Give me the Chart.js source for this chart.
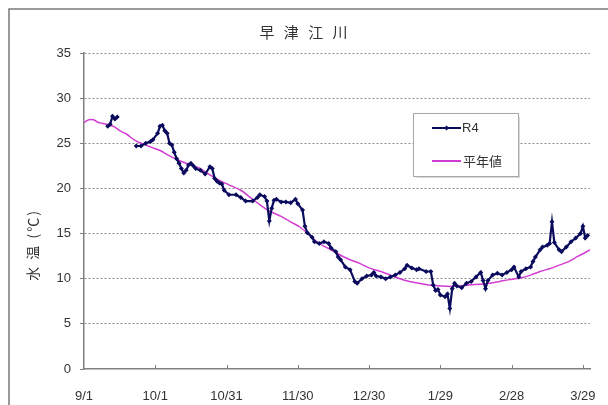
<!DOCTYPE html>
<html lang="ja">
<head>
<meta charset="utf-8">
<title>早津江川 水温</title>
<script src="https://cdn.jsdelivr.net/npm/chart.js@4"></script>
<style>
  html, body { margin: 0; padding: 0; background: #fff; }
  #wrap { width: 608px; height: 405px; }
</style>
</head>
<body>
<div id="wrap"><canvas id="tempChart" width="608" height="405"></canvas></div>
<script>
// days counted from 9/1
const tickDays = [0, 30, 60, 90, 120, 150, 180, 210];
const tickLabels = ['9/1', '10/1', '10/31', '11/30', '12/30', '1/29', '2/28', '3/29'];

// R4 daily water temperature (null = missing)
const r4Days = [
  10, 11, 12, 13, 14, 18, 22, 24, 26, 28, 29, 31,
  32, 33, 34, 35, 36, 37, 38, 39, 40, 41, 42, 43,
  44, 45, 46, 47, 49, 51, 53, 54, 55, 56, 57, 58,
  59, 61, 64, 66, 68, 71, 73, 74, 76, 77, 78, 79,
  80, 81, 83, 85, 87, 89, 90, 92, 93, 94, 96, 97,
  99, 101, 103, 104, 106, 107, 108, 110, 112, 114, 115, 117,
  119, 121, 122, 123, 125, 127, 129, 131, 133, 135, 136, 138,
  140, 141, 144, 146, 147, 148, 149, 150, 152, 153, 154, 155,
  156, 157, 159, 161, 163, 165, 167, 168, 169, 170, 172, 174,
  176, 178, 180, 181, 183, 184, 186, 188, 189, 190, 192, 193,
  195, 196, 197, 198, 200, 201, 203, 205, 207, 209, 210, 211,
  212
];
const r4Temps = [
  26.9, 27.1, 28.0, 27.7, 27.9, null, 24.7, 24.7, 25.0, 25.2, 25.4, 26.1,
  26.9, 27.0, 26.4, 26.1, 25.0, 24.8, 24.0, 23.3, 22.8, 22.2, 21.7, 22.0,
  22.6, 22.8, 22.5, 22.2, 22.0, 21.6, 22.4, 22.2, 21.1, 20.8, 20.6, 20.5,
  19.8, 19.3, 19.3, 19.0, 18.6, 18.6, 19.0, 19.3, 19.1, 18.6, 16.4, 17.8,
  18.7, 18.8, 18.5, 18.5, 18.4, 18.8, 18.3, 17.6, 15.8, 15.1, 14.6, 14.1,
  13.9, 14.1, 13.9, 13.4, 13.0, 12.4, 12.1, 11.3, 11.0, 9.7, 9.5, 10.0,
  10.3, 10.4, 10.7, 10.3, 10.2, 10.0, 10.2, 10.4, 10.7, 11.1, 11.5, 11.2,
  11.0, 11.1, 10.8, 10.8, 9.3, 8.7, 8.8, 8.2, 8.0, 8.3, 6.7, 8.9,
  9.5, 9.2, 9.0, 9.5, 9.7, 10.2, 10.7, 9.8, 8.9, 9.8, 10.4, 10.6,
  10.4, 10.7, 11.0, 11.3, 10.2, 10.8, 11.1, 11.3, 11.9, 12.4, 13.2, 13.5,
  13.7, 13.9, 16.3, 14.0, 13.2, 13.0, 13.5, 14.1, 14.5, 15.0, 15.8, 14.5,
  14.8
];

// normal-year curve
const normalDays = [
  0, 2, 4, 6, 8, 11, 13, 15, 18, 21, 24, 27, 30, 32, 36, 40, 44, 49, 53, 57,
  61, 66, 70, 74, 78, 83, 87, 91, 95, 99, 104, 108, 112, 116, 120, 125, 129, 133, 137, 141,
  145, 150, 154, 158, 162, 167, 171, 175, 179, 184, 188, 192, 196, 200, 204, 208, 211, 213
];
const normalTemps = [
  27.3, 27.6, 27.6, 27.3, 27.2, 27.0, 26.8, 26.4, 26.0, 25.4, 25.0, 24.7, 24.4, 24.2, 23.6, 23.1, 22.7, 22.2, 21.5, 20.9,
  20.4, 19.8, 19.0, 18.2, 17.5, 16.9, 16.3, 15.7, 14.8, 13.9, 13.2, 12.6, 12.1, 11.7, 11.2, 10.8, 10.4, 10.0, 9.7, 9.5,
  9.3, 9.2, 9.15, 9.2, 9.3, 9.4, 9.5, 9.7, 9.9, 10.1, 10.4, 10.8, 11.1, 11.5, 11.9, 12.5, 12.9, 13.2
];

const NAVY = '#0b0b5e';
const PINK = '#d23cd2';
const AXIS_GREY = '#808080';
const TEXT = '#333333';
const NUM_FONT = 'Liberation Sans, Arial, sans-serif';
const JP_FONT = '"Noto Sans CJK JP", sans-serif';

const toPoints = (xs, ys) => xs.map((x, i) => ({ x: x, y: ys[i] }));

// frame, title, axis caption, inner x ticks and the legend box
const decorations = {
  id: 'decorations',
  beforeDraw(chart) {
    const ctx = chart.ctx;
    ctx.save();
    ctx.fillStyle = '#fff';
    ctx.fillRect(0, 0, chart.width, chart.height);
    ctx.strokeStyle = '#7a7a7a';
    ctx.lineWidth = 1.5;
    ctx.beginPath();
    ctx.moveTo(9, chart.height);
    ctx.lineTo(9, 9);
    ctx.lineTo(chart.width, 9);
    ctx.stroke();
    ctx.restore();
  },
  afterDraw(chart) {
    const ctx = chart.ctx;
    const xs = chart.scales.x;
    const area = chart.chartArea;
    ctx.save();

    ctx.fillStyle = TEXT;
    ctx.font = '15px ' + JP_FONT;
    ctx.textAlign = 'center';
    ctx.textBaseline = 'middle';
    ctx.letterSpacing = '3px';
    ctx.fillText('早 津 江 川', 305, 32);

    ctx.save();
    ctx.translate(33, 245);
    ctx.rotate(-Math.PI / 2);
    ctx.font = '14px ' + JP_FONT;
    ctx.letterSpacing = '2px';
    ctx.fillText('水 温 (℃)', 0, 0);
    ctx.restore();
    ctx.letterSpacing = '0px';

    ctx.strokeStyle = AXIS_GREY;
    ctx.lineWidth = 1;
    tickDays.slice(1).forEach(d => {
      const px = Math.round(xs.getPixelForValue(d)) + 0.5;
      ctx.beginPath();
      ctx.moveTo(px, area.bottom);
      ctx.lineTo(px, area.bottom - 4);
      ctx.stroke();
    });

    // legend
    ctx.fillStyle = '#fff';
    ctx.shadowColor = 'rgba(0,0,0,0.15)';
    ctx.shadowOffsetX = 1;
    ctx.shadowOffsetY = 1;
    ctx.shadowBlur = 1;
    ctx.fillRect(413.5, 113.5, 105, 63);
    ctx.shadowColor = 'transparent';
    ctx.strokeStyle = '#a8a8a8';
    ctx.strokeRect(413.5, 113.5, 105, 63);

    ctx.lineWidth = 2;
    ctx.strokeStyle = NAVY;
    ctx.beginPath();
    ctx.moveTo(432, 128);
    ctx.lineTo(461, 128);
    ctx.stroke();
    ctx.fillStyle = NAVY;
    ctx.beginPath();
    ctx.moveTo(446.5, 125.5);
    ctx.lineTo(449, 128);
    ctx.lineTo(446.5, 130.5);
    ctx.lineTo(444, 128);
    ctx.closePath();
    ctx.fill();

    ctx.strokeStyle = PINK;
    ctx.beginPath();
    ctx.moveTo(432, 161);
    ctx.lineTo(461, 161);
    ctx.stroke();

    ctx.fillStyle = TEXT;
    ctx.textAlign = 'left';
    ctx.font = '13px ' + NUM_FONT;
    ctx.fillText('R4', 462, 128);
    ctx.font = '13px ' + JP_FONT;
    ctx.fillText('平年値', 463, 161);

    ctx.restore();
  }
};

new Chart(document.getElementById('tempChart'), {
  type: 'line',
  data: {
    datasets: [{
      label: 'R4',
      data: toPoints(r4Days, r4Temps),
      borderColor: NAVY,
      backgroundColor: NAVY,
      borderWidth: 2.2,
      pointStyle: 'rectRot',
      pointRadius: 2.5,
      pointBorderWidth: 0,
      spanGaps: false,
      tension: 0,
      order: 1
    }, {
      label: '平年値',
      data: toPoints(normalDays, normalTemps),
      borderColor: PINK,
      backgroundColor: PINK,
      borderWidth: 1.5,
      pointRadius: 0,
      tension: 0.3,
      order: 2
    }]
  },
  options: {
    responsive: false,
    animation: false,
    events: [],
    layout: { padding: { left: 0, right: 18, top: 53, bottom: 0 } },
    plugins: {
      legend: { display: false },
      title: { display: false },
      tooltip: { enabled: false }
    },
    scales: {
      x: {
        type: 'linear',
        min: 0,
        max: 213,
        afterBuildTicks(scale) {
          scale.ticks = tickDays.map(v => ({ value: v }));
        },
        afterFit(scale) {
          scale.height = 36;
        },
        grid: { display: false },
        border: { display: true, color: AXIS_GREY, width: 1.5 },
        ticks: {
          autoSkip: false,
          maxRotation: 0,
          padding: 12,
          color: TEXT,
          font: { family: NUM_FONT, size: 13 },
          callback: v => tickLabels[tickDays.indexOf(v)]
        }
      },
      y: {
        min: 0,
        max: 35,
        afterFit(scale) {
          scale.width = 84;
        },
        grid: {
          color: c => (c.tick && c.tick.value === 0) ? 'rgba(0,0,0,0)' : '#8c8c8c',
          lineWidth: 1,
          drawTicks: true,
          tickLength: 4,
          tickColor: AXIS_GREY,
          tickBorderDash: []
        },
        border: { display: true, color: AXIS_GREY, width: 1.5, dash: [2, 2] },
        ticks: {
          stepSize: 5,
          padding: 9,
          color: TEXT,
          font: { family: NUM_FONT, size: 13 }
        }
      }
    }
  },
  plugins: [decorations]
});
</script>
</body>
</html>
